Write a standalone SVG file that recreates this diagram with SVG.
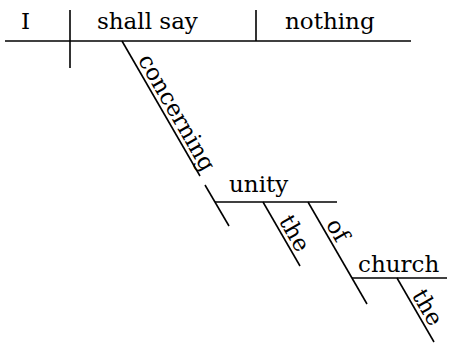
<svg xmlns="http://www.w3.org/2000/svg" width="450" height="343" viewBox="0 0 450 343">
<style>
  .ln { stroke: #000; stroke-width: 1.6; fill: none; stroke-linecap: butt; }
  .t { font-family: "DejaVu Serif", "Liberation Serif", serif; font-size: 23px; fill: #000; }
</style>
<rect width="450" height="343" fill="#fff"/>
<g id="connectors">
  <line class="ln" x1="5" y1="41" x2="411" y2="41" stroke-width="2"/>
  <line class="ln" x1="70" y1="10" x2="70" y2="68"/>
  <line class="ln" x1="256" y1="10" x2="256" y2="41"/>
  <line class="ln" x1="122" y1="41" x2="200" y2="176"/>
  <line class="ln" x1="205" y1="185" x2="229" y2="226"/>
  <line class="ln" x1="215" y1="202" x2="337" y2="202"/>
  <line class="ln" x1="263" y1="202" x2="300" y2="266"/>
  <line class="ln" x1="308" y1="202" x2="367" y2="304"/>
  <line class="ln" x1="352" y1="278" x2="447" y2="278"/>
  <line class="ln" x1="397" y1="278" x2="434" y2="342"/>
</g>
<g id="subject"><text class="t" x="21" y="29">I</text></g>
<g id="verb"><text class="t" x="97" y="29">shall say</text></g>
<g id="object"><text class="t" x="285" y="29">nothing</text></g>
<g id="prep-concerning"><text class="t" transform="translate(137.5,59.8) rotate(60)">concerning</text></g>
<g id="unity"><text class="t" x="229" y="192">unity</text></g>
<g id="the1"><text class="t" transform="translate(278.5,220.8) rotate(60)">the</text></g>
<g id="prep-of"><text class="t" transform="translate(325.5,224.2) rotate(60)">of</text></g>
<g id="church"><text class="t" x="358" y="272">church</text></g>
<g id="the2"><text class="t" transform="translate(411.5,295) rotate(60)">the</text></g>
</svg>
